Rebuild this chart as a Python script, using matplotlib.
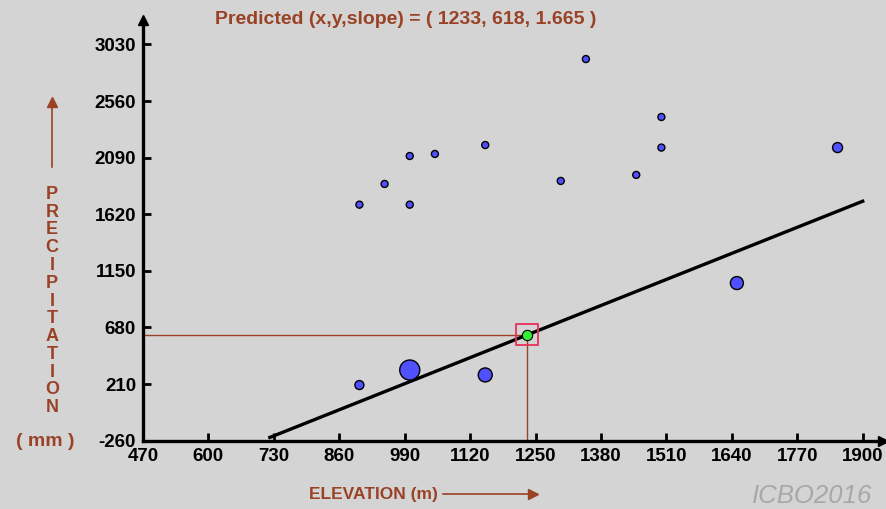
import matplotlib.pyplot as plt
import numpy as np

# stations: elevation (m), precipitation (mm), weight (marker diameter, px)
elevation = [900, 950, 1000, 1000, 1050, 1150, 1300, 1350, 1450, 1500, 1500, 1850,
             900, 1000, 1150, 1650]
precip = [1700, 1872, 2104, 1700, 2121, 2195, 1897, 2909, 1947, 2428, 2174, 2174,
          202, 327, 286, 1049]
weight = [7, 7, 7, 7, 7, 7, 7, 7, 7, 7, 7, 10,
          9, 20, 14, 13]

pred_x, pred_y, slope = 1233, 618, 1.665

xticks = [470, 600, 730, 860, 990, 1120, 1250, 1380, 1510, 1640, 1770, 1900]
yticks = [-260, 210, 680, 1150, 1620, 2090, 2560, 3030]

bg = '#d4d4d4'
brown = '#9a4226'

plt.rcParams['font.family'] = ['Liberation Sans', 'DejaVu Sans']

fig = plt.figure(figsize=(8.87, 5.09), dpi=100, facecolor=bg)
ax = fig.add_axes([143 / 887, 68.3 / 509, 740 / 887, 420.7 / 509], facecolor=bg)
ax.set_xlim(470, 470 + 740 / 0.5033)
ax.set_ylim(-260, -260 + 420.7 / 0.12043)

# regression line
lx = np.array([722, 1900])
ax.plot(lx, pred_y + slope * (lx - pred_x), color='black', lw=2.4, zorder=2)

# guide lines to predicted point
ax.plot([470, pred_x], [pred_y, pred_y], color=brown, lw=1, zorder=1)
ax.plot([pred_x, pred_x], [-260, pred_y], color=brown, lw=1, zorder=1)

# stations
s = (np.array(weight) * 0.72) ** 2
ax.scatter(elevation, precip, s=s, c='#5050ff', edgecolors='black', linewidths=1, zorder=3)

# predicted point
ax.scatter([pred_x], [pred_y], s=55, c='#33ee33', edgecolors='black', linewidths=0.8, zorder=4)
ax.scatter([pred_x], [pred_y], s=230, marker='s', facecolors='none', edgecolors='#e8305a',
           linewidths=1.3, zorder=4)

for sp in ['top', 'right']:
    ax.spines[sp].set_visible(False)
for sp in ['left', 'bottom']:
    ax.spines[sp].set_linewidth(2.4)
ax.plot(1, 0, '>k', ms=7, transform=ax.transAxes, clip_on=False)
ax.plot(0, 1, '^k', ms=7, transform=ax.transAxes, clip_on=False)

ax.set_xticks(xticks)
ax.set_xticklabels([str(v) for v in xticks])
ax.set_yticks(yticks)
ax.set_yticklabels([str(v) for v in yticks])
ax.tick_params(direction='in', length=6, width=2, pad=5, labelsize=13.5)
for lab in ax.get_xticklabels() + ax.get_yticklabels():
    lab.set_fontweight('bold')

fig.text(406 / 887, 1 - 20 / 509, 'Predicted (x,y,slope) = ( 1233, 618, 1.665 )',
         color=brown, fontsize=14, fontweight='bold', ha='center', va='center')

# y label with stacked letters
fig.text(52 / 887, 1 - 301 / 509, '\n'.join('PRECIPITATION'), color=brown,
         fontsize=13, fontweight='bold', ha='center', va='center', linespacing=1.06)
fig.text(45 / 887, 1 - 442 / 509, '( mm )', color=brown, fontsize=14,
         fontweight='bold', ha='center', va='center')
fig.add_artist(plt.Line2D([52 / 887, 52 / 887], [1 - 167 / 509, 1 - 104 / 509],
                          color=brown, lw=1.2))
fig.add_artist(plt.Line2D([52 / 887], [1 - 102 / 509], marker='^', color=brown, ms=7))

fig.text(373 / 887, 1 - 494 / 509, 'ELEVATION (m)', color=brown, fontsize=12.5,
         fontweight='bold', ha='center', va='center')
fig.add_artist(plt.Line2D([443 / 887, 530 / 887], [1 - 494 / 509, 1 - 494 / 509],
                          color=brown, lw=1.2))
fig.add_artist(plt.Line2D([533 / 887], [1 - 494 / 509], marker='>', color=brown, ms=7))

fig.text(752 / 887, 1 / 509, 'ICBO2016', color='#a8a8a8', fontsize=18.5,
         style='italic', ha='left', va='bottom')

fig.savefig('out.png', dpi=100, facecolor=bg)
